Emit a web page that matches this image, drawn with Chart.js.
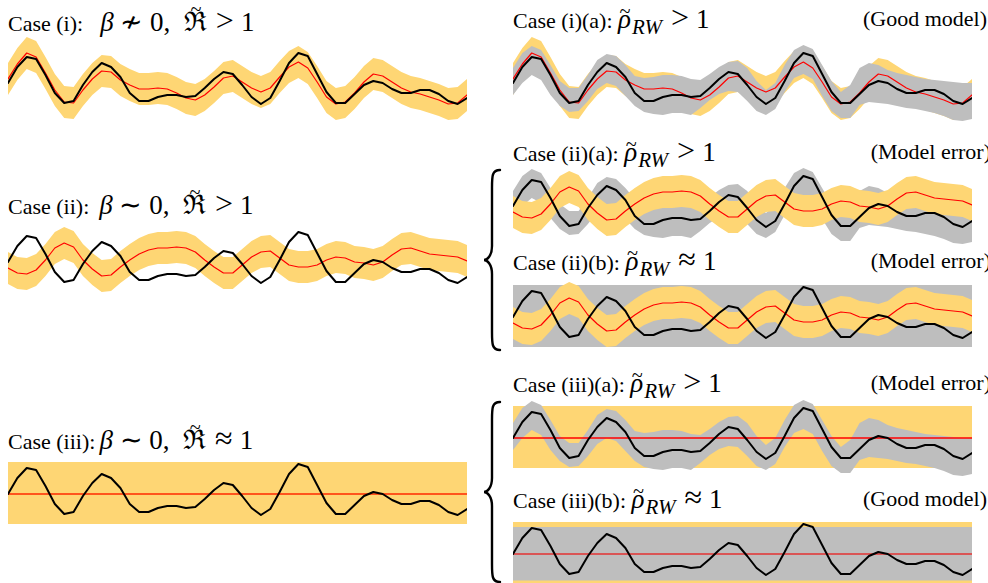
<!DOCTYPE html>
<html>
<head>
<meta charset="utf-8">
<script src="https://cdn.jsdelivr.net/npm/chart.js@4.4.1/dist/chart.umd.min.js"></script>
<style>
  html, body { margin: 0; padding: 0; background: #fff; overflow: hidden; width: 988px; height: 583px; }
  #fig { position: relative; width: 988px; height: 583px; }
  #fig canvas { position: absolute; }
  .t { position: absolute; font-family: "Liberation Serif", "Times New Roman", serif; font-size: 22px;
       line-height: 22px; white-space: nowrap; color: #000; }
  .m { font-size: 27px; line-height: 22px; }
  .i { font-style: italic; }
  .rel { font-size: 32px; line-height: 22px; margin: 0 7px 0 9px; }
  .sub { font-size: 21px; font-style: italic; position: relative; top: 6px; margin-left: 1px; }
  .tl { position: relative; display: inline-block; }
  .tl::before { content: "~"; position: absolute; left: 50%; transform: translateX(-45%); top: -0.42em; font-size: 0.75em; font-style: normal; }
  .tlf::before { top: -0.62em; }
  .note { position: absolute; font-family: "Liberation Serif", "Times New Roman", serif; font-size: 22px;
          line-height: 22px; white-space: nowrap; color: #000; }
  svg { position: absolute; left: 0; top: 0; }
</style>
</head>
<body>
<div id="fig">
  <svg width="988" height="583" id="braces"></svg>

  <div class="t" style="left:8px; top:9px;">Case (i):<span class="m" style="margin-left:17px"><span class="i">β</span> ≁ 0,&nbsp; <span class="tl tlf">ℜ</span><span class="rel">&gt;</span>1</span></div>
  <div class="t" style="left:8px; top:192px;">Case (ii):<span class="m" style="margin-left:10px"><span class="i">β</span> ∼ 0,&nbsp; <span class="tl tlf">ℜ</span><span class="rel">&gt;</span>1</span></div>
  <div class="t" style="left:8px; top:427px;">Case (iii):<span class="m" style="margin-left:4px"><span class="i">β</span> ∼ 0,&nbsp; <span class="tl tlf">ℜ</span><span class="rel">≈</span>1</span></div>

  <div class="t" style="left:513px; top:6px;">Case (i)(a): <span class="m"><span class="tl i">ρ</span><span class="sub">RW</span><span class="rel">&gt;</span>1</span></div>
  <div class="t" style="left:513px; top:139px;">Case (ii)(a): <span class="m"><span class="tl i">ρ</span><span class="sub">RW</span><span class="rel">&gt;</span>1</span></div>
  <div class="t" style="left:513px; top:248px;">Case (ii)(b): <span class="m"><span class="tl i">ρ</span><span class="sub">RW</span><span class="rel">≈</span>1</span></div>
  <div class="t" style="left:513px; top:370px;">Case (iii)(a): <span class="m"><span class="tl i">ρ</span><span class="sub">RW</span><span class="rel">&gt;</span>1</span></div>
  <div class="t" style="left:513px; top:486px;">Case (iii)(b): <span class="m"><span class="tl i">ρ</span><span class="sub">RW</span><span class="rel">≈</span>1</span></div>

  <div class="note" style="right:1px; top:8px;">(Good model)</div>
  <div class="note" style="right:-3px; top:141px;">(Model error)</div>
  <div class="note" style="right:-3px; top:250px;">(Model error)</div>
  <div class="note" style="right:-3px; top:372px;">(Model error)</div>
  <div class="note" style="right:1px; top:488px;">(Good model)</div>
</div>

<script>
// Weekly index of the series
const weeks = Array.from({ length: 50 }, (_, i) => i + 1);

// Observed series (black)
const observed = [0.0, 1.6, 2.6, 2.4, 0.8, -1.0, -2.0, -1.8, -0.2, 1.1,
                  2.0, 1.6, 0.6, -1.0, -1.8, -1.8, -1.4, -1.2, -1.2, -1.4,
                  -1.3, -0.5, 0.4, 1.1, 0.9, -0.2, -1.4, -2.1, -1.5, 0.2,
                  2.0, 3.0, 2.7, 0.9, -0.9, -2.0, -2.0, -1.1, -0.2, 0.2,
                  0.0, -0.6, -1.0, -1.0, -0.7, -0.7, -1.1, -1.8, -2.1, -1.5];

// Case (i): model mean and its predictive band
const meanCase1 = [0.4, 1.9, 3.0, 2.6, 1.0, -0.7, -1.9, -2.0, -0.7, 0.4,
                   1.2, 1.1, 0.3, -0.2, -0.6, -0.6, -0.5, -0.6, -1.0, -1.5,
                   -1.7, -1.2, -0.4, 0.5, 0.7, 0.1, -0.5, -0.9, -0.5, 0.6,
                   1.6, 2.1, 1.5, 0.1, -1.4, -2.1, -1.9, -1.0, 0.1, 0.9,
                   0.7, 0.1, -0.5, -0.9, -1.1, -1.4, -1.7, -2.1, -2.0, -1.2];
const upperCase1 = [2.0, 3.5, 4.6, 4.2, 2.6, 0.9, -0.3, -0.4, 0.9, 2.0,
                    2.8, 2.7, 1.9, 1.4, 1.0, 1.0, 1.1, 1.0, 0.6, 0.1,
                    -0.1, 0.4, 1.2, 2.1, 2.3, 1.7, 1.1, 0.7, 1.1, 2.2,
                    3.2, 3.7, 3.1, 1.7, 0.2, -0.5, -0.3, 0.6, 1.7, 2.5,
                    2.3, 1.7, 1.1, 0.7, 0.5, 0.2, -0.1, -0.5, -0.4, 0.4];
const lowerCase1 = [-1.2, 0.3, 1.4, 1.0, -0.6, -2.3, -3.5, -3.6, -2.3, -1.2,
                    -0.4, -0.5, -1.3, -1.8, -2.2, -2.2, -2.1, -2.2, -2.6, -3.1,
                    -3.3, -2.8, -2.0, -1.1, -0.9, -1.5, -2.1, -2.5, -2.1, -1.0,
                    0.0, 0.5, -0.1, -1.5, -3.0, -3.7, -3.5, -2.6, -1.5, -0.7,
                    -0.9, -1.5, -2.1, -2.5, -2.7, -3.0, -3.3, -3.7, -3.6, -2.8];

// Case (ii): model mean and its predictive band
const meanCase2 = [-0.6, -1.1, -1.2, -0.8, 0.2, 1.4, 1.9, 1.5, 0.2, -0.7,
                   -1.4, -1.3, -0.5, 0.2, 0.8, 1.2, 1.4, 1.4, 1.5, 1.4,
                   1.0, 0.2, -0.5, -1.1, -1.1, -0.3, 0.5, 1.0, 1.1, 0.4,
                   -0.3, -0.5, -0.5, -0.3, 0.2, 0.5, 0.4, 0.0, -0.1, -0.3,
                   0.0, 0.7, 1.3, 1.4, 1.1, 0.8, 0.7, 0.6, 0.5, 0.1];
const upperCase2 = [1.0, 0.5, 0.4, 0.8, 1.8, 3.0, 3.5, 3.1, 1.8, 0.9,
                    0.2, 0.3, 1.1, 1.8, 2.4, 2.8, 3.0, 3.0, 3.1, 3.0,
                    2.6, 1.8, 1.1, 0.5, 0.5, 1.3, 2.1, 2.6, 2.7, 2.0,
                    1.3, 1.1, 1.1, 1.3, 1.8, 2.1, 2.0, 1.6, 1.5, 1.3,
                    1.6, 2.3, 2.9, 3.0, 2.7, 2.4, 2.3, 2.2, 2.1, 1.7];
const lowerCase2 = [-2.2, -2.7, -2.8, -2.4, -1.4, -0.2, 0.3, -0.1, -1.4, -2.3,
                    -3.0, -2.9, -2.1, -1.4, -0.8, -0.4, -0.2, -0.2, -0.1, -0.2,
                    -0.6, -1.4, -2.1, -2.7, -2.7, -1.9, -1.1, -0.6, -0.5, -1.2,
                    -1.9, -2.1, -2.1, -1.9, -1.4, -1.1, -1.2, -1.6, -1.7, -1.9,
                    -1.6, -0.9, -0.3, -0.2, -0.5, -0.8, -0.9, -1.0, -1.1, -1.5];

// Case (iii): flat mean with a wide constant band
const meanCase3 = 0.0;
const upperCase3 = 3.2;
const lowerCase3 = -3.0;

// Random-walk reference band around the observations
const upperRW = [1.5, 3.0, 3.7, 3.3, 1.8, 0.2, -0.5, -0.5, 0.8, 2.3,
                 2.9, 2.7, 1.8, 0.7, 0.5, 0.6, 0.8, 0.8, 0.7, 0.4,
                 0.3, 0.9, 1.6, 2.1, 2.2, 1.5, 0.2, -0.7, 0.0, 1.8,
                 3.3, 3.8, 3.4, 1.8, 0.2, -0.9, -0.2, 1.5, 2.0, 1.8,
                 1.3, 1.0, 0.8, 0.6, 0.4, 0.3, 0.2, 0.1, 0.0, 0.0];
const lowerRW = [-1.2, 0.0, 0.8, 0.3, -1.2, -2.3, -2.9, -2.8, -1.8, -0.6,
                 0.0, -0.3, -1.3, -2.3, -2.9, -3.1, -3.2, -3.0, -3.0, -3.2,
                 -2.5, -1.7, -1.1, -0.8, -0.9, -1.8, -2.8, -3.2, -2.6, -0.9,
                 0.5, 0.9, 0.4, -1.3, -2.8, -3.5, -3.5, -2.2, -1.9, -2.0,
                 -2.1, -2.3, -2.5, -2.6, -2.8, -3.0, -3.3, -3.7, -3.8, -3.6];
// Constant random-walk bands
const upperRWFlat = 3.2;
const lowerRWFlat = -3.0;
const upperRWFlatB = 2.7;
const lowerRWFlatB = -2.65;

const ORANGE = '#FED674';
const GRAY = '#BEBEBE';
const RED = '#FF0000';
const BLACK = '#000000';

const Y_MIN = -4.5, Y_MAX = 5;   // value range shown in every panel
const PX_PER_UNIT = 10;
const PANEL_W = 459;

function pts(vals) { return vals.map((v, i) => ({ x: weeks[i], y: v })); }
function flat(v) { return [{ x: weeks[0], y: v }, { x: weeks[weeks.length - 1], y: v }]; }

const band = (lo, hi, color) => ({ kind: 'band', lo, hi, color });
const rect = (lo, hi, color) => ({ kind: 'rect', lo, hi, color });
const line = (vals, color, width) => ({ kind: 'line', vals, color, width });
const hline = (v, color, width) => ({ kind: 'hline', v, color, width });

function buildDatasets(layers) {
  const ds = [];
  const n = layers.length;
  layers.forEach((layer, k) => {
    const order = (n - k) * 10;   // first layer is drawn first (underneath)
    const base = { pointRadius: 0, tension: 0, borderJoinStyle: 'round', borderCapStyle: 'round' };
    if (layer.kind === 'band') {
      const loIdx = ds.length;
      ds.push({ ...base, data: pts(layer.lo), borderWidth: 0, borderColor: 'rgba(0,0,0,0)', fill: false, order: order + 1 });
      ds.push({ ...base, data: pts(layer.hi), borderWidth: 0, borderColor: 'rgba(0,0,0,0)',
                backgroundColor: layer.color, fill: loIdx, order });
    } else if (layer.kind === 'rect') {
      ds.push({ ...base, data: flat(layer.hi), borderWidth: 0, borderColor: 'rgba(0,0,0,0)',
                backgroundColor: layer.color, fill: { value: layer.lo }, order });
    } else if (layer.kind === 'line') {
      ds.push({ ...base, data: pts(layer.vals), borderColor: layer.color, borderWidth: layer.width, fill: false, order });
    } else {
      ds.push({ ...base, data: flat(layer.v), borderColor: layer.color, borderWidth: layer.width, fill: false, order });
    }
  });
  return ds;
}

function panel(left, zeroY, layers) {
  const c = document.createElement('canvas');
  const h = (Y_MAX - Y_MIN) * PX_PER_UNIT;
  c.width = PANEL_W; c.height = h;
  c.style.left = left + 'px';
  c.style.top = (zeroY - Y_MAX * PX_PER_UNIT) + 'px';
  c.style.width = PANEL_W + 'px'; c.style.height = h + 'px';
  document.getElementById('fig').appendChild(c);
  new Chart(c, {
    type: 'line',
    data: { datasets: buildDatasets(layers) },
    options: {
      responsive: false, animation: false, devicePixelRatio: 1,
      layout: { padding: 0 },
      plugins: { legend: { display: false }, tooltip: { enabled: false }, title: { display: false } },
      scales: {
        x: { type: 'linear', display: false, min: weeks[0], max: weeks[weeks.length - 1] },
        y: { type: 'linear', display: false, min: Y_MIN, max: Y_MAX }
      }
    }
  });
}

const LEFT_X = 8, RIGHT_X = 513;

// Case (i)
panel(LEFT_X, 83, [
  band(lowerCase1, upperCase1, ORANGE),
  line(meanCase1, RED, 1.2),
  line(observed, BLACK, 2)
]);
panel(RIGHT_X, 83, [
  band(lowerCase1, upperCase1, ORANGE),
  band(lowerRW, upperRW, GRAY),
  line(meanCase1, RED, 1.2),
  line(observed, BLACK, 2)
]);

// Case (ii)
panel(LEFT_X, 262, [
  band(lowerCase2, upperCase2, ORANGE),
  line(meanCase2, RED, 1.2),
  line(observed, BLACK, 2)
]);
panel(RIGHT_X, 206, [
  band(lowerRW, upperRW, GRAY),
  band(lowerCase2, upperCase2, ORANGE),
  line(meanCase2, RED, 1.2),
  line(observed, BLACK, 2)
]);
panel(RIGHT_X, 317, [
  rect(lowerRWFlat, upperRWFlat, GRAY),
  band(lowerCase2, upperCase2, ORANGE),
  line(meanCase2, RED, 1.2),
  line(observed, BLACK, 2)
]);

// Case (iii)
panel(LEFT_X, 494, [
  rect(lowerCase3, upperCase3, ORANGE),
  hline(meanCase3, 'rgba(255,40,0,0.75)', 2.2),
  line(observed, BLACK, 2)
]);
panel(RIGHT_X, 438, [
  rect(lowerCase3, upperCase3, ORANGE),
  band(lowerRW, upperRW, GRAY),
  hline(meanCase3, RED, 1.4),
  line(observed, BLACK, 2)
]);
panel(RIGHT_X, 554, [
  rect(lowerCase3, upperCase3, ORANGE),
  rect(lowerRWFlatB, upperRWFlatB, GRAY),
  hline(meanCase3, 'rgba(230,40,40,0.7)', 2.2),
  line(observed, BLACK, 2)
]);

// Curly braces grouping the sub-cases
function brace(x, y0, y1, depth) {
  const ym = (y0 + y1) / 2;
  const xi = x - depth * 0.5, xt = x - depth;
  return `M ${x} ${y0} C ${xi} ${y0}, ${xi} ${y0 + 6}, ${xi} ${y0 + 18} ` +
         `L ${xi} ${ym - 14} C ${xi} ${ym - 4}, ${xt + 3} ${ym}, ${xt} ${ym} ` +
         `C ${xt + 3} ${ym}, ${xi} ${ym + 4}, ${xi} ${ym + 14} ` +
         `L ${xi} ${y1 - 18} C ${xi} ${y1 - 6}, ${xi} ${y1}, ${x} ${y1}`;
}
const svg = document.getElementById('braces');
[[170, 350], [402, 582]].forEach(([a, b]) => {
  const p = document.createElementNS('http://www.w3.org/2000/svg', 'path');
  p.setAttribute('d', brace(500, a, b, 16));
  p.setAttribute('fill', 'none');
  p.setAttribute('stroke', '#000');
  p.setAttribute('stroke-width', '2.4');
  p.setAttribute('stroke-linecap', 'round');
  svg.appendChild(p);
});
</script>
</body>
</html>
